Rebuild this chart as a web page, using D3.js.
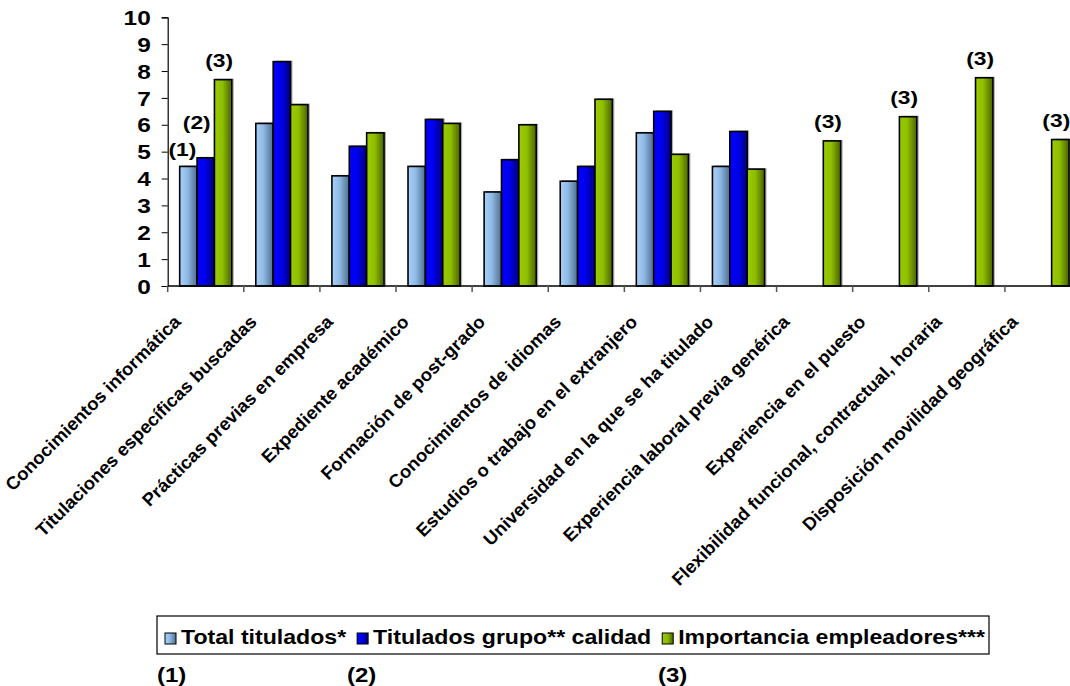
<!DOCTYPE html>
<html><head><meta charset="utf-8">
<script src="https://cdn.jsdelivr.net/npm/d3@7"></script>
<style>
html,body{margin:0;padding:0;background:#fff;}
svg{display:block;}
text{font-family:"Liberation Sans",Arial,sans-serif;font-weight:bold;fill:#000;}
</style></head>
<body><svg id="c" width="1070" height="686"></svg>
<script>
const categories = [
  "Conocimientos informática",
  "Titulaciones específicas buscadas",
  "Prácticas previas en empresa",
  "Expediente académico",
  "Formación de post-grado",
  "Conocimientos de idiomas",
  "Estudios o trabajo en el extranjero",
  "Universidad en la que se ha titulado",
  "Experiencia laboral previa genérica",
  "Experiencia en el puesto",
  "Flexibilidad funcional, contractual, horaria",
  "Disposición movilidad geográfica"
];
const seriesNames = ["Total titulados*", "Titulados grupo** calidad", "Importancia empleadores***"];
const totalTitulados   = [4.45, 6.05, 4.1, 4.45, 3.5, 3.9, 5.7, 4.45, null, null, null, null];
const tituladosCalidad = [4.77, 8.35, 5.2, 6.2, 4.7, 4.45, 6.5, 5.75, null, null, null, null];
const importanciaEmp   = [7.68, 6.75, 5.7, 6.05, 6.0, 6.95, 4.9, 4.35, 5.4, 6.3, 7.75, 5.45];
const yTicks = [0,1,2,3,4,5,6,7,8,9,10];
const annotations = [
  {cat:0, s:0, t:"(1)"}, {cat:0, s:1, t:"(2)"}, {cat:0, s:2, t:"(3)"},
  {cat:8, s:2, t:"(3)"}, {cat:9, s:2, t:"(3)"}, {cat:10, s:2, t:"(3)"}, {cat:11, s:2, t:"(3)"}
];
const footnotes = ["(1)", "(2)", "(3)"];

const seriesValues = [totalTitulados, tituladosCalidad, importanciaEmp];
const grads = [
  ["#a6d2fb", "#8fb8e2", "#4d6d8f"],
  ["#0000ff", "#0000ee", "#00007a"],
  ["#99cc00", "#8fbf00", "#4a6300"]
];

function stretch(sel, k) {
  sel.each(function(){ const w = this.getComputedTextLength(); this.__w = w * k; this.setAttribute("textLength", w * k); this.setAttribute("lengthAdjust", "spacingAndGlyphs"); });
}

const svg = d3.select("#c");
const defs = svg.append("defs");
grads.forEach((g, i) => {
  const lg = defs.append("linearGradient").attr("id", "g" + i).attr("x1", "0").attr("x2", "1").attr("y1", "0").attr("y2", "0");
  lg.append("stop").attr("offset", "0%").attr("stop-color", g[0]);
  lg.append("stop").attr("offset", "45%").attr("stop-color", g[1]);
  lg.append("stop").attr("offset", "100%").attr("stop-color", g[2]);
});

const x0 = d3.scaleBand().domain(d3.range(categories.length)).range([167.7, 1081]).paddingInner(0).paddingOuter(0);
const x1 = d3.scaleBand().domain(d3.range(seriesNames.length)).range([0, x0.bandwidth()]).paddingInner(0).paddingOuter(0.69);
const y = d3.scaleLinear().domain([0, 10]).range([286, 17.3]);

// bars
const rows = [];
categories.forEach((c, ci) => seriesValues.forEach((arr, si) => { if (arr[ci] != null) rows.push({ci, si, v: arr[ci]}); }));
const gb = svg.append("g");
gb.selectAll("rect.sh").data(rows).join("rect").attr("class", "sh")
  .attr("x", d => x0(d.ci) + x1(d.si) + 2)
  .attr("y", d => y(d.v) - 1)
  .attr("width", x1.bandwidth())
  .attr("height", d => y(0) - y(d.v) + 1)
  .attr("fill", "#b0b0b0");
gb.selectAll("rect.bar").data(rows).join("rect").attr("class", "bar")
  .attr("x", d => x0(d.ci) + x1(d.si))
  .attr("y", d => y(d.v))
  .attr("width", x1.bandwidth())
  .attr("height", d => y(0) - y(d.v))
  .attr("fill", d => `url(#g${d.si})`)
  .attr("stroke", "#000").attr("stroke-width", 1.6);

// y axis
const ya = svg.append("g").attr("transform", "translate(167.7,0)")
  .call(d3.axisLeft(y).tickValues(yTicks).tickSize(6).tickPadding(11).tickFormat(d3.format("d")));
ya.select(".domain").attr("stroke", "#000").attr("stroke-width", 1.2);
ya.selectAll(".tick line").attr("stroke", "#000");
ya.selectAll(".tick text").style("font-size", "20px").attr("font-family", null).attr("dy", "0.36em").call(stretch, 1.22);

// x axis
const xa = svg.append("g");
xa.append("line").attr("x1", 167.7).attr("x2", 1070).attr("y1", y(0)).attr("y2", y(0)).attr("stroke", "#000").attr("stroke-width", 1.5);
const bounds = d3.range(categories.length + 1).map(i => i < categories.length ? x0(i) : x0.range()[1]);
xa.selectAll("line.t").data(bounds).join("line").attr("class", "t")
  .attr("x1", d => d).attr("x2", d => d).attr("y1", y(0)).attr("y2", y(0) + 6)
  .attr("stroke", "#555").attr("stroke-width", 1.5);
xa.selectAll("text.xl").data(categories).join("text").attr("class", "xl")
  .attr("transform", (d, i) => `translate(${x0(i) + x0.bandwidth() / 2 - 24},${y(0) + 37}) rotate(-45)`)
  .attr("text-anchor", "end")
  .style("font-size", "18px")
  .text(d => d)
  .call(stretch, 1.03);

// annotations
const annOff = {"(1)": [-6, -10], "(2)": [-9, -29], "(3)": [-4, -13]};
svg.selectAll("text.ann").data(annotations).join("text").attr("class", "ann")
  .attr("x", d => x0(d.cat) + x1(d.s) + x1.bandwidth() / 2 + annOff[d.t][0])
  .attr("y", d => y(seriesValues[d.s][d.cat]) + annOff[d.t][1])
  .attr("text-anchor", "middle").style("font-size", "19px")
  .text(d => d.t)
  .call(stretch, 1.2);

// legend
const lg = svg.append("g");
lg.append("rect").attr("x", 157).attr("y", 616).attr("width", 832).attr("height", 38)
  .attr("fill", "#fff").attr("stroke", "#000").attr("stroke-width", 1.2);
let lx = 165;
seriesNames.forEach((n, i) => {
  lg.append("rect").attr("x", lx).attr("y", 633).attr("width", 11).attr("height", 11)
    .attr("fill", `url(#g${i})`).attr("stroke", "#000").attr("stroke-width", 1);
  const t = lg.append("text").attr("x", lx + 16).attr("y", 644).style("font-size", "21px").text(n).call(stretch, 1.1);
  lx = lx + 16 + t.node().__w + 11;
});

// footnotes
const fx = [157, 347, 658];
svg.selectAll("text.fn").data(footnotes).join("text").attr("class", "fn")
  .attr("x", (d, i) => fx[i]).attr("y", 682).style("font-size", "20px").text(d => d).call(stretch, 1.2);
</script></body></html>
